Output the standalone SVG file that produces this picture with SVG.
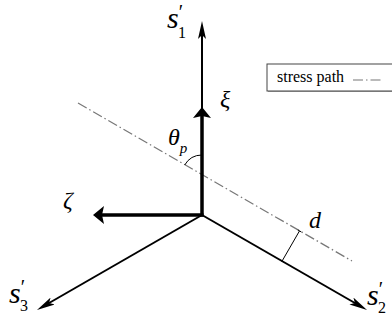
<svg xmlns="http://www.w3.org/2000/svg" width="392" height="320" viewBox="0 0 392 320">
<style>
.axis{stroke:#000;stroke-width:2;fill:none}
.thick{stroke:#000;stroke-width:3.5;fill:none}
.path{stroke:#777;stroke-width:1.2;fill:none;stroke-dasharray:10 3 1.5 3}
.thin{stroke:#000;stroke-width:1;fill:none}
text{fill:#000;font-family:"Liberation Serif","Times New Roman",serif}
.m{font-style:italic}
.pr{font-style:normal;font-size:20px}
.sb{font-style:normal;font-size:16px}
</style>
<defs>
<marker id="ah" viewBox="0 -4 18 8" refX="4" refY="0" markerWidth="18" markerHeight="8" markerUnits="userSpaceOnUse" orient="auto">
<path d="M0,-4 L18,0 L0,4 L4,0 z" fill="#000"/>
</marker>
<marker id="ahk" viewBox="0 -9 11 18" refX="2" refY="0" markerWidth="11" markerHeight="18" markerUnits="userSpaceOnUse" orient="auto">
<path d="M0,-9 L11,0 L0,9 L2,0 z" fill="#000"/>
</marker>
</defs>
<g id="connectors">
<line class="path" x1="78" y1="103" x2="352" y2="261"/>
<line class="axis" x1="202" y1="215" x2="202" y2="35" marker-end="url(#ah)"/>
<line class="axis" x1="202" y1="215" x2="354.9" y2="303" marker-end="url(#ah)"/>
<line class="axis" x1="202" y1="215" x2="49.1" y2="303" marker-end="url(#ah)"/>
<line class="thick" x1="202" y1="216.5" x2="202" y2="116" marker-end="url(#ahk)"/>
<line class="thick" x1="203.5" y1="215" x2="102" y2="215" marker-end="url(#ahk)"/>
<line class="thin" x1="282" y1="261.2" x2="299.5" y2="230.9"/>
<line class="thin" x1="280.3" y1="260.2" x2="283.7" y2="262.2"/>
<line class="thin" x1="297.8" y1="229.9" x2="301.2" y2="231.9"/>
<path class="thin" d="M202,155 A20,20 0 0,0 184.7,165"/>
</g>
<g id="s1">
<text class="m" x="167" y="28" font-size="30">s<tspan class="pr" dy="-9">′</tspan><tspan class="sb" dx="-5" dy="19">1</tspan></text>
</g>
<g id="s2">
<text class="m" x="367" y="305" font-size="30">s<tspan class="pr" dy="-9">′</tspan><tspan class="sb" dx="-5" dy="17">2</tspan></text>
</g>
<g id="s3">
<text class="m" x="9" y="303" font-size="30">s<tspan class="pr" dy="-9">′</tspan><tspan class="sb" dx="-5" dy="17">3</tspan></text>
</g>
<g id="xi"><text class="m" x="220" y="107" font-size="24">ξ</text></g>
<g id="zeta"><text class="m" x="63" y="208" font-size="24">ζ</text></g>
<g id="theta">
<text class="m" x="168" y="145" font-size="24">θ<tspan font-size="15" dy="8">p</tspan></text>
</g>
<g id="d"><text class="m" x="309" y="228" font-size="24">d</text></g>
<g id="legend">
<rect x="268" y="65" width="130" height="27" fill="#aaa"/>
<rect x="267" y="64" width="130" height="27" fill="#fff" stroke="#444" stroke-width="1"/>
<text x="277" y="82" font-size="16">stress path</text>
<line class="path" x1="353" y1="80" x2="382" y2="80" stroke-dasharray="8 3 1.5 3"/>
</g>
</svg>
